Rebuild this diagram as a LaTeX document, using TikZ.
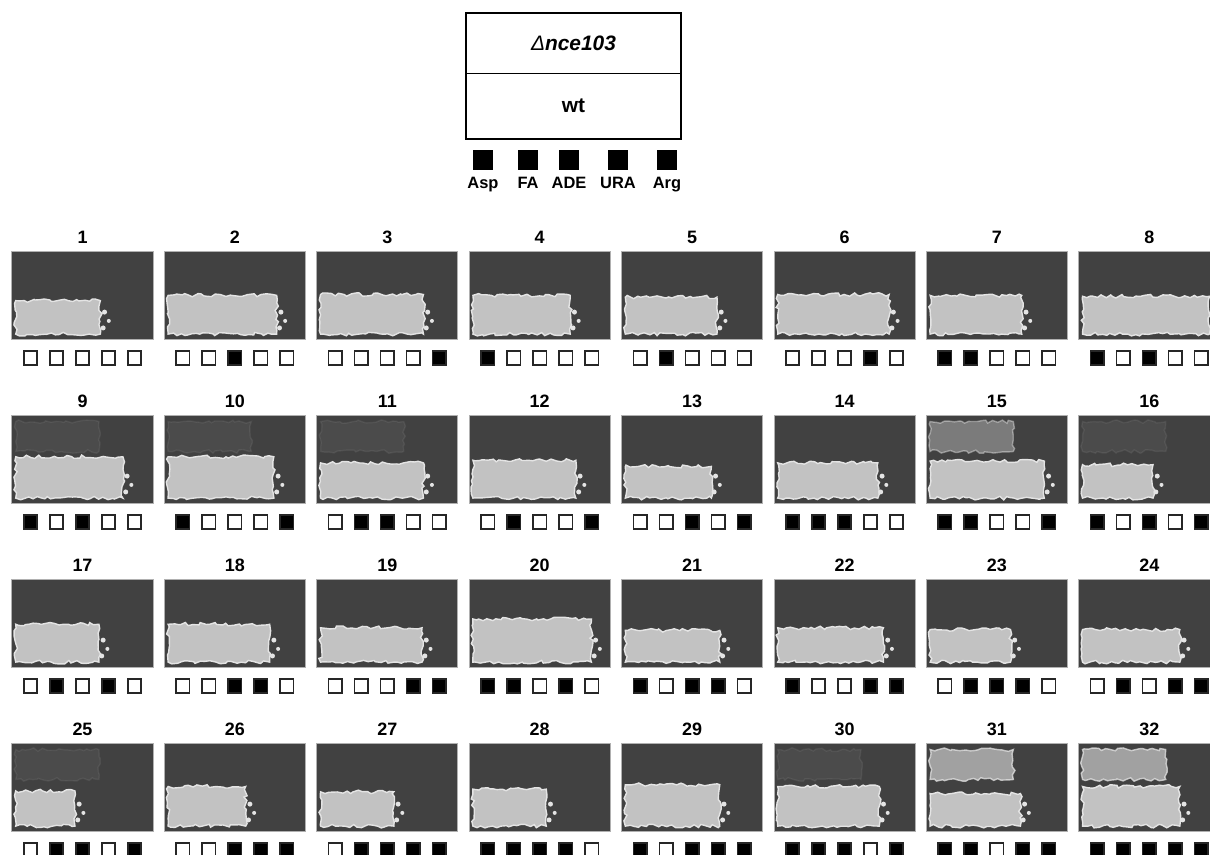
\documentclass[tikz,border=0pt]{standalone}
\usepackage{fontspec}
\setmainfont{Liberation Sans}
\usetikzlibrary{positioning,decorations.pathmorphing}
\definecolor{agar}{HTML}{414141}
\definecolor{colony}{HTML}{C2C2C2}
\definecolor{rim}{HTML}{E4E4E4}
\definecolor{plateedge}{HTML}{B0B0B0}

\begin{document}
\begin{tikzpicture}[x=1bp,y=-1bp,
  plate/.style={draw=plateedge,fill=agar,line width=1bp,minimum width=141bp,minimum height=88bp,inner sep=0pt},
  numlbl/.style={font=\fontsize{18}{20}\selectfont\bfseries,inner sep=0pt},
  sq/.style={draw=black!85,line width=1.6bp,minimum size=13.5bp,inner sep=0pt},
  legsq/.style={fill=black,minimum size=20bp,inner sep=0pt},
  leglbl/.style={font=\fontsize{16.5}{18}\selectfont\bfseries,inner sep=0pt,anchor=base},
  streak/.style={fill=colony,draw=rim,line width=1.4bp,decorate,decoration={random steps,segment length=4bp,amplitude=1.8bp}}]
\useasboundingbox (0,0) rectangle (1210,855);

\node (KO) at (573.5,43) [minimum width=215bp,minimum height=60bp,inner sep=0pt,font=\fontsize{21}{24}\selectfont\bfseries\itshape] {{\mdseries Δ}nce103};
\node (WT) [below=0pt of KO,minimum width=215bp,minimum height=65bp,inner sep=0pt,font=\fontsize{21}{24}\selectfont\bfseries] {wt};
\draw [line width=2bp] (KO.north west) rectangle (WT.south east);
\draw [line width=1bp] (KO.south west) -- (KO.south east);

\node (Asp) at (483,188.5) [leglbl] {Asp};
\node (FA) at (528,188.5) [leglbl] {FA};
\node (ADE) at (569,188.5) [leglbl] {ADE};
\node (URA) at (618,188.5) [leglbl] {URA};
\node (Arg) at (667,188.5) [leglbl] {Arg};
\foreach \m in {Asp,FA,ADE,URA,Arg} \node (L\m) [legsq,above=6.5bp of \m] {};

\foreach \n/\e/\t/\u/\pat in {
  1/0.63/0.57/0/{0,0,0,0,0}, 2/0.80/0.51/0/{0,0,1,0,0}, 3/0.76/0.50/0/{0,0,0,0,1}, 4/0.72/0.51/0/{1,0,0,0,0},
  5/0.68/0.53/0/{0,1,0,0,0}, 6/0.82/0.50/0/{0,0,0,1,0}, 7/0.68/0.51/0/{1,1,0,0,0}, 8/0.93/0.52/0/{1,0,1,0,0},
  9/0.79/0.48/1/{1,0,1,0,0}, 10/0.78/0.48/1/{1,0,0,0,1}, 11/0.76/0.55/1/{0,1,1,0,0}, 12/0.76/0.52/0/{0,1,0,0,1},
  13/0.64/0.59/0/{0,0,1,0,1}, 14/0.74/0.55/0/{1,1,1,0,0}, 15/0.84/0.53/2/{1,1,0,0,1}, 16/0.53/0.57/1/{1,0,1,0,1},
  17/0.62/0.52/0/{0,1,0,1,0}, 18/0.75/0.52/0/{0,0,1,1,0}, 19/0.75/0.56/0/{0,0,0,1,1}, 20/0.87/0.46/0/{1,1,0,1,0},
  21/0.70/0.59/0/{1,0,1,1,0}, 22/0.78/0.56/0/{1,0,0,1,1}, 23/0.60/0.58/0/{0,1,1,1,0}, 24/0.72/0.58/0/{0,1,0,1,1},
  25/0.45/0.55/1/{0,1,1,0,1}, 26/0.58/0.50/0/{0,0,1,1,1}, 27/0.55/0.56/0/{0,1,1,1,1}, 28/0.55/0.53/0/{1,1,1,1,0},
  29/0.70/0.48/0/{1,0,1,1,1}, 30/0.75/0.50/1/{1,1,1,0,1}, 31/0.67/0.58/3/{1,1,0,1,1}, 32/0.72/0.50/3/{1,1,1,1,1}}{
  \pgfmathtruncatemacro\c{mod(\n-1,8)}
  \pgfmathtruncatemacro\r{(\n-1)/8}
  \pgfmathsetmacro\op{{0,0.08,0.45,0.75}[\u]}
  \node (P\n) at (82.5+152.4*\c,295+164*\r) [plate] {};
  \node (N\n) [numlbl,above=7bp of P\n] {\n};
  \begin{scope}[shift={(P\n.north west)},x=141bp,y=-88bp]
    \path [streak,opacity=\op] (0.03,0.08) rectangle (0.62,0.42);
    \path [streak] (0.03,\t) rectangle (\e,0.95);
    \fill [rim] (\e+0.03,0.70) circle[radius=2.5bp] (\e+0.06,0.80) circle[radius=2bp] (\e+0.02,0.88) circle[radius=2.5bp];
  \end{scope}
  \foreach \s [count=\k from 0] in \pat {
    \pgfmathtruncatemacro\sh{100*\s}
    \node (S\n-\k) at (82.5+152.4*\c+26*\k-52,358+164*\r) [sq,fill=black!\sh!white] {};
  }
}
\end{tikzpicture}
\end{document}
